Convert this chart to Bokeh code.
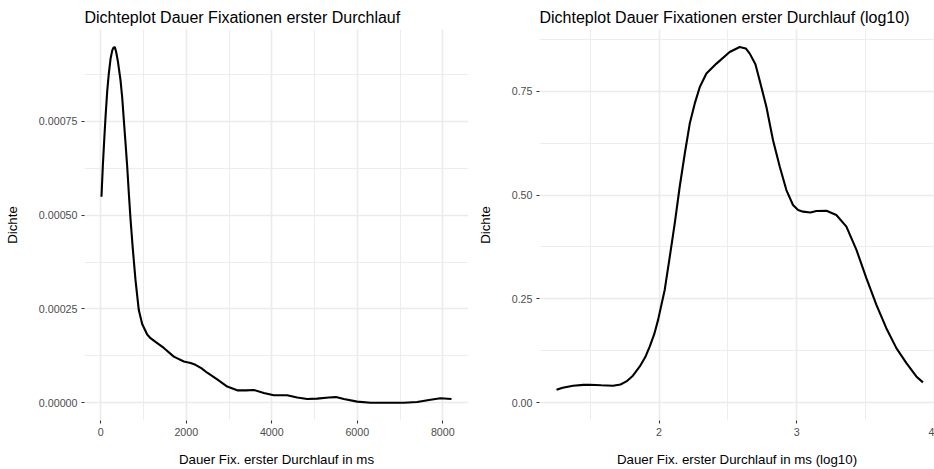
from bokeh.plotting import figure
from bokeh.layouts import row
from bokeh.models import Range1d, FixedTicker, NumeralTickFormatter
from bokeh.embed import file_html
from bokeh.resources import INLINE

# ---- data ----
raw_x = [16, 47, 80, 110, 150, 187, 230, 270, 300, 328, 360, 400, 461, 500, 538, 580,
         618, 655, 695, 749, 812, 889, 968, 1085, 1163, 1280, 1474, 1708, 1942, 2100,
         2215, 2350, 2489, 2723, 2957, 3190, 3400, 3580, 3813, 4046, 4360, 4594, 4828,
         5062, 5333, 5500, 5684, 5997, 6309, 6700, 7088, 7401, 7713, 7946, 8203]
raw_y = [0.000549, 0.000629, 0.000700, 0.000760, 0.000830, 0.000877, 0.000918, 0.000940,
         0.000947, 0.000948, 0.000935, 0.000910, 0.000860, 0.000815, 0.000755, 0.000690,
         0.000629, 0.000560, 0.000490, 0.000410, 0.000327, 0.000247, 0.000210, 0.000182,
         0.000172, 0.000162, 0.000146, 0.000123, 0.000110, 0.000106, 0.000101, 0.000092,
         0.000080, 0.000062, 0.000043, 0.000033, 0.000033, 0.000034, 0.000026, 0.000020,
         0.000020, 0.000014, 0.000010, 0.000011, 0.000014, 0.000015, 0.000010, 0.000003,
         0.0, 0.0, 0.0, 0.000002, 0.000008, 0.000012, 0.000010]

log_x = [1.255, 1.30, 1.375, 1.45, 1.497, 1.58, 1.666, 1.72, 1.763, 1.81, 1.860, 1.90,
         1.932, 1.965, 1.993, 2.041, 2.078, 2.114, 2.150, 2.187, 2.223, 2.259, 2.296,
         2.344, 2.417, 2.513, 2.586, 2.630, 2.659, 2.700, 2.731, 2.780, 2.828, 2.877,
         2.925, 2.973, 3.010, 3.046, 3.100, 3.143, 3.216, 3.288, 3.361, 3.434, 3.506,
         3.579, 3.651, 3.724, 3.797, 3.869, 3.917]
log_y = [0.031, 0.036, 0.041, 0.043, 0.0433, 0.042, 0.041, 0.044, 0.0513, 0.065, 0.0873,
         0.110, 0.135, 0.165, 0.1995, 0.2716, 0.3517, 0.432, 0.520, 0.600, 0.672, 0.720,
         0.760, 0.7925, 0.8165, 0.8445, 0.8565, 0.853, 0.8405, 0.815, 0.776, 0.712, 0.632,
         0.568, 0.512, 0.476, 0.464, 0.460, 0.458, 0.4615, 0.4623, 0.452, 0.424, 0.368,
         0.300, 0.2356, 0.1795, 0.1315, 0.0954, 0.0632, 0.049]

raw_xticks = [0, 2000, 4000, 6000, 8000]
raw_xminor = [1000, 3000, 5000, 7000]
raw_yticks = [0.0, 0.00025, 0.0005, 0.00075]
raw_yminor = [0.000125, 0.000375, 0.000625, 0.000875]
log_xticks = [2, 3, 4]
log_xminor = [1.5, 2.5, 3.5]
log_yticks = [0.0, 0.25, 0.5, 0.75]
log_yminor = [0.125, 0.375, 0.625, 0.875]

titles = ["Dichteplot Dauer Fixationen erster Durchlauf",
          "Dichteplot Dauer Fixationen erster Durchlauf (log10)"]
xlabels = ["Dauer Fix. erster Durchlauf in ms",
           "Dauer Fix. erster Durchlauf in ms (log10)"]
ylabel = "Dichte"

FONT = "Liberation Sans"
GRID = "#EBEBEB"


def make(xs, ys, xr, yr, xt, xm, yt, ym, xfmt, yfmt, title, xlabel,
         width, mb_left, mb_right):
    p = figure(width=width, height=469, output_backend="svg", toolbar_location=None,
               x_range=Range1d(*xr), y_range=Range1d(*yr),
               min_border_left=mb_left, min_border_right=mb_right,
               min_border_top=29, min_border_bottom=48)
    p.outline_line_color = None
    p.background_fill_color = "white"
    p.border_fill_color = "white"
    p.title.text = title
    p.title.text_font = FONT
    p.title.text_font_size = "16px"
    p.title.text_font_style = "normal"
    p.title.text_color = "black"
    p.title.align = "left"
    p.title.standoff = 7
    p.xaxis.ticker = FixedTicker(ticks=xt, minor_ticks=xm)
    p.yaxis.ticker = FixedTicker(ticks=yt, minor_ticks=ym)
    p.xaxis.formatter = NumeralTickFormatter(format=xfmt)
    p.yaxis.formatter = NumeralTickFormatter(format=yfmt)
    for ax in (p.xaxis, p.yaxis):
        ax.axis_line_color = None
        ax.major_tick_line_color = "#333333"
        ax.major_tick_line_width = 1.1
        ax.major_tick_out = 3
        ax.major_tick_in = 0
        ax.minor_tick_line_color = None
        ax.major_label_text_font = FONT
        ax.major_label_text_font_size = "10.7px"
        ax.major_label_text_color = "#4D4D4D"
        ax.major_label_standoff = 3
        ax.axis_label_text_font = FONT
        ax.axis_label_text_font_size = "13.3px"
        ax.axis_label_text_font_style = "normal"
        ax.axis_label_text_color = "black"
    p.xaxis.axis_label = xlabel
    p.yaxis.axis_label = ylabel
    p.xaxis.axis_label_standoff = 13
    p.yaxis.axis_label_standoff = 16
    for g in (p.xgrid, p.ygrid):
        g.grid_line_color = GRID
        g.grid_line_width = 1.6
        g.minor_grid_line_color = GRID
        g.minor_grid_line_width = 0.9
    p.line(xs, ys, line_color="black", line_width=2.1)
    return p


p1 = make(raw_x, raw_y, (-381, 8601), (-0.0000474, 0.000995),
          raw_xticks, raw_xminor, raw_yticks, raw_yminor, "0", "0.00000",
          titles[0], xlabels[0], 470, 84, 2)
p2 = make(log_x, log_y, (1.1315, 4.001), (-0.0428, 0.8986),
          log_xticks, log_xminor, log_yticks, log_yminor, "0", "0.00",
          titles[1], xlabels[1], 464, 69, 0)

layout = row(p1, p2)
open("out.html", "w").write(file_html(layout, INLINE))
